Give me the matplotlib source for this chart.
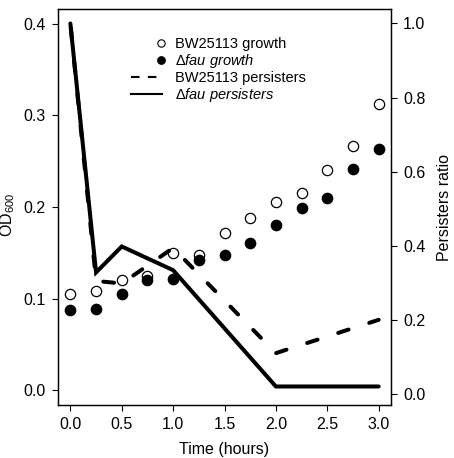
import numpy as np
import matplotlib
matplotlib.use("Agg")
import matplotlib.pyplot as plt
from matplotlib.lines import Line2D
from matplotlib.legend_handler import HandlerLine2D

plt.rcParams['font.family'] = ['Liberation Sans', 'DejaVu Sans']
plt.rcParams['mathtext.fontset'] = 'custom'
plt.rcParams['mathtext.rm'] = 'Liberation Sans'
plt.rcParams['mathtext.it'] = 'Liberation Sans:italic'

# growth (OD600), sampled every 15 min
time = [0.0, 0.25, 0.5, 0.75, 1.0, 1.25, 1.5, 1.75, 2.0, 2.25, 2.5, 2.75, 3.0]
wt_od = [0.105, 0.108, 0.120, 0.125, 0.150, 0.148, 0.172, 0.188, 0.205,
         0.215, 0.240, 0.267, 0.312]
fau_od = [0.088, 0.089, 0.105, 0.120, 0.121, 0.142, 0.148, 0.161, 0.180,
          0.199, 0.210, 0.241, 0.263]

# persisters ratio
ptime = [0.0, 0.25, 0.5, 1.0, 2.0, 3.0]
wt_pers = [1.0, 0.305, 0.298, 0.394, 0.110, 0.200]
fau_pers = [1.0, 0.328, 0.398, 0.334, 0.020, 0.020]

labels = ['BW25113 growth', r'$\Delta\mathit{fau\ growth}$',
          'BW25113 persisters', r'$\Delta\mathit{fau\ persisters}$']


class RightMarker(HandlerLine2D):
    # R-style legend: point sits at the right end of the key
    def create_artists(self, legend, orig_handle, xdescent, ydescent,
                       width, height, fontsize, trans):
        x = -xdescent + 0.98 * width
        pt = Line2D([x], [(height - ydescent) / 2])
        self.update_prop(pt, orig_handle, legend)
        pt.set_transform(trans)
        return [pt]


fig = plt.figure(figsize=(4.54, 4.58), dpi=100)
ax = fig.add_axes([0.1278, 0.1157, 0.7334, 0.8646])
ax2 = ax.twinx()

ax.plot(time, wt_od, 'o', ms=7.4, mfc='none', mec='black', mew=0.9)
ax.plot(time, fau_od, 'o', ms=7.4, mfc='black', mec='black')

ax2.plot(ptime, wt_pers, color='black', lw=2.9, ls=(6.86, (2.7, 5.4)),
         dash_capstyle='round')
ax2.plot(ptime, fau_pers, color='black', lw=2.9, solid_capstyle='round',
         solid_joinstyle='miter')

ax.set_xlim(-0.12, 3.12)
ax.set_ylim(-0.016, 0.416)
ax2.set_ylim(-0.03, 1.039)

ax.set_xticks(np.arange(0, 3.01, 0.5))
ax.set_xticklabels(['%.1f' % v for v in np.arange(0, 3.01, 0.5)])
ax.set_yticks(np.arange(0, 0.41, 0.1))
ax.set_yticklabels(['%.1f' % v for v in np.arange(0, 0.41, 0.1)])
ax2.set_yticks(np.arange(0, 1.01, 0.2))
ax2.set_yticklabels(['%.1f' % v for v in np.arange(0, 1.01, 0.2)])

for a in (ax, ax2):
    a.tick_params(labelsize=11.5, length=4.5, width=0.8, pad=4.3,
                  color='black')
    for s in a.spines.values():
        s.set_linewidth(0.9)
        s.set_color('black')

ax.set_xlabel('Time (hours)', fontsize=11.5, labelpad=7)
ax.set_ylabel('OD$_{600}$', fontsize=11.5)
ax.yaxis.set_label_coords(-0.122, 0.48)
ax2.set_ylabel('Persisters ratio', fontsize=11.5, labelpad=8)

open_key = Line2D([], [], ls='none', marker='o', ms=5.3, mfc='none',
                  mec='black', mew=0.8)
fill_key = Line2D([], [], ls='none', marker='o', ms=5.3, mfc='black',
                  mec='black')
handles = [
    open_key,
    fill_key,
    Line2D([], [], color='black', lw=1.5, ls=(0, (4.1, 4.0))),
    Line2D([], [], color='black', lw=1.5),
]
leg = ax2.legend(handles, labels, loc='upper left',
                 bbox_to_anchor=(0.179, 0.963), frameon=False, fontsize=10.5,
                 handlelength=2.12, handletextpad=0.9, labelspacing=0.08,
                 numpoints=1,
                 handler_map={open_key: RightMarker(),
                              fill_key: RightMarker()})

fig.savefig('out.png', dpi=100)
